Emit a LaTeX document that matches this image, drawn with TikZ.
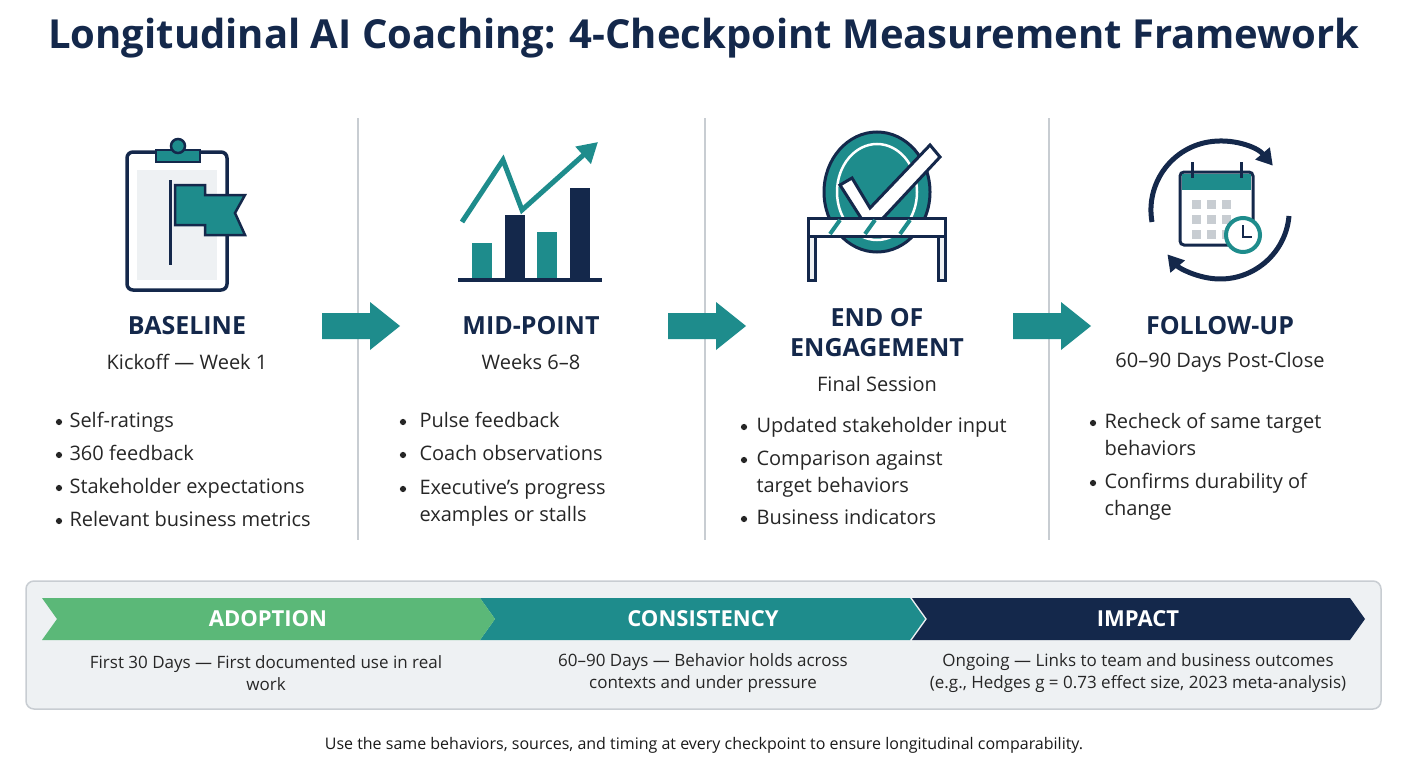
\documentclass[tikz,border=0pt]{standalone}
\usepackage{fontspec}
\setmainfont{Open Sans}
\usetikzlibrary{arrows.meta}
\definecolor{navy}{HTML}{14284B}
\definecolor{teal}{HTML}{1E8C8C}
\definecolor{leaf}{HTML}{5BB878}
\definecolor{panel}{HTML}{EEF1F3}
\definecolor{rule}{HTML}{C8CDD2}
\tikzset{
  head/.style={font=\fontsize{25}{30}\selectfont\bfseries, text=navy, align=center},
  sub/.style={font=\fontsize{20}{24}\selectfont, text=black!85},
  item/.style={font=\fontsize{20}{27}\selectfont, text=black!85, anchor=north west, align=left},
  dot/.style={circle, fill=black!85, inner sep=2.2pt},
  band/.style={font=\fontsize{22}{26}\selectfont\bfseries, text=white},
  note/.style={font=\fontsize{17}{22}\selectfont, text=black!85, align=center},
}
\begin{document}
\begin{tikzpicture}[x=1pt,y=-1pt]
\useasboundingbox (0,0) rectangle (1408,768);
\node[font=\fontsize{40}{44}\selectfont\bfseries, text=navy] (title) at (704,38) {Longitudinal AI Coaching: 4-Checkpoint Measurement Framework};
% dividers
\foreach \x in {358,705,1049} \draw[rule, line width=1.2pt] (\x,118) -- (\x,540);
% icon 1: clipboard and flag
\draw[navy, line width=3.5pt, fill=white, rounded corners=6pt] (127,152) rectangle (227,290);
\fill[panel] (137,170) rectangle (217,280);
\draw[navy, line width=2.5pt, fill=teal] (156,150) rectangle (200,162);
\draw[navy, line width=2.5pt, fill=teal] (178,146) circle (7pt);
\draw[navy, line width=3pt] (170,180) -- (170,265);
\draw[navy, line width=2.5pt, fill=teal] (175,185) -- (205,185) -- (205,195) -- (245,195) -- (235,213) -- (245,235) -- (205,235) -- (205,225) -- (175,225) -- cycle;
% icon 2: bar chart
\fill[teal] (472,243) rectangle (492,278);
\fill[navy] (505,215) rectangle (525,278);
\fill[teal] (537,232) rectangle (557,278);
\fill[navy] (570,188) rectangle (590,278);
\draw[navy, line width=4pt] (458,280) -- (602,280);
\draw[teal, line width=5pt, -{Triangle[length=20pt,width=22pt]}] (462,222) -- (503,160) -- (522,210) -- (598,142);
% icon 3: check over barrier
\draw[navy, line width=3pt, fill=teal] (877,192) ellipse (53pt and 60pt);
\draw[white, line width=2.5pt] (877,192) ellipse (40pt and 48pt);
\draw[navy, line width=3pt, fill=white] (840,185) -- (852,178) -- (870,208) -- (930,145) -- (940,157) -- (870,232) -- cycle;
\draw[navy, line width=3pt, fill=white] (808,218) rectangle (945,236);
\foreach \x in {830,865,900} \draw[teal, line width=4pt] (\x,234) -- (\x+10,220);
\draw[navy, line width=3pt, fill=panel] (808,236) rectangle (815,280);
\draw[navy, line width=3pt, fill=panel] (938,236) rectangle (945,280);
% icon 4: calendar and cycle
\draw[navy, line width=5pt, -{Triangle[length=16pt,width=18pt]}] (1152,222) arc (190:40:69pt);
\draw[navy, line width=5pt, -{Triangle[length=16pt,width=18pt]}] (1289,216) arc (-5:-140:69pt);
\draw[navy, line width=3pt, fill=white, rounded corners=4pt] (1180,172) rectangle (1253,245);
\fill[teal] (1182,174) rectangle (1251,190);
\draw[navy, line width=3pt] (1192,162) -- (1192,178) (1241,162) -- (1241,178);
\foreach \x in {1192,1207,1222} \foreach \y in {200,215,230} \fill[rule] (\x,\y) rectangle ++(9,9);
\draw[teal, line width=4pt, fill=white] (1243,235) circle (17pt);
\draw[navy, line width=2.5pt] (1243,225) -- (1243,237) -- (1252,237);
% headings
\node[head] (h1) at (187,326) {BASELINE};
\node[sub] (s1) at (187,362) {Kickoff — Week 1};
\node[head] (h2) at (531,326) {MID-POINT};
\node[sub] (s2) at (531,362) {Weeks 6–8};
\node[head] (h3) at (877,333) {END OF\\ENGAGEMENT};
\node[sub] (s3) at (877,384) {Final Session};
\node[head] (h4) at (1220,326) {FOLLOW-UP};
\node[sub] (s4) at (1220,362) {60–90 Days Post-Close};
% arrows
\foreach \x in {322,668,1013}
  \fill[teal] (\x,313) -- (\x+48,313) -- (\x+48,302) -- (\x+78,326) -- (\x+48,350) -- (\x+48,339) -- (\x,339) -- cycle;
% bullets
\foreach \t [count=\i] in {Self-ratings,360 feedback,Stakeholder expectations,Relevant business metrics}
  {\node[dot] at (59,389+33*\i) {}; \node[item] (b1\i) at (66,376+33*\i) {\t};}
\node[dot] at (403,422) {}; \node[item] (b21) at (416,409) {Pulse feedback};
\node[dot] at (403,455) {}; \node[item] (b22) at (416,442) {Coach observations};
\node[dot] at (403,489) {}; \node[item] (b23) at (416,476) {Executive’s progress\\examples or stalls};
\node[dot] at (744,427) {}; \node[item] (b31) at (753,414) {Updated stakeholder input};
\node[dot] at (744,460) {}; \node[item] (b32) at (753,447) {Comparison against\\target behaviors};
\node[dot] at (744,519) {}; \node[item] (b33) at (753,506) {Business indicators};
\node[dot] at (1093,423) {}; \node[item] (b41) at (1101,410) {Recheck of same target\\behaviors};
\node[dot] at (1093,483) {}; \node[item] (b42) at (1101,470) {Confirms durability of\\change};
% bottom panel
\draw[rule, line width=1.5pt, fill=panel, rounded corners=8pt] (26,581) rectangle (1381,709);
\fill[navy] (912,598) -- (1350,598) -- (1365,619) -- (1350,640) -- (912,640) -- (927,619) -- cycle;
\fill[teal] (480,598) -- (910,598) -- (925,619) -- (910,640) -- (480,640) -- (495,619) -- cycle;
\fill[leaf] (42,598) -- (480,598) -- (495,619) -- (480,640) -- (42,640) -- (57,619) -- cycle;
\node[band] (p1) at (268,619) {ADOPTION};
\node[band] (p2) at (703,619) {CONSISTENCY};
\node[band] (p3) at (1138,619) {IMPACT};
\node[note] (n1) at (266,673) {First 30 Days — First documented use in real\\work};
\node[note] (n2) at (703,673) {60–90 Days — Behavior holds across\\contexts and under pressure};
\node[note] (n3) at (1138,673) {Ongoing — Links to team and business outcomes\\(e.g., Hedges g = 0.73 effect size, 2023 meta-analysis)};
\node[font=\fontsize{16}{20}\selectfont, text=black!90] (foot) at (704,745) {Use the same behaviors, sources, and timing at every checkpoint to ensure longitudinal comparability.};
\end{tikzpicture}
\end{document}
